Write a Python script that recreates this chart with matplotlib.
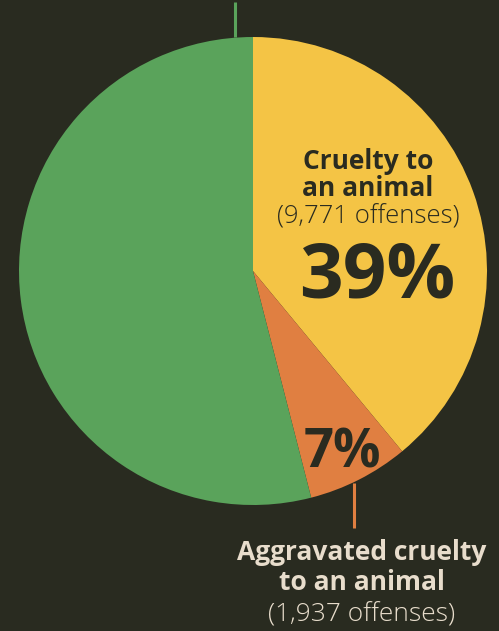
import matplotlib.pyplot as plt

# offense categories (green slice label is cut off at the top of the image)
categories = ['Cruelty to an animal', 'Aggravated cruelty to an animal', 'Other']
shares = [39, 7, 54]
offenses = ['9,771', '1,937', '']
colors = ['#f4c445', '#e07f41', '#5aa35b']

bg = '#292b20'
dark = '#2a2b20'
beige = '#e8ddcc'
font = ['Open Sans', 'DejaVu Sans']

W, H = 499, 631
fig = plt.figure(figsize=(W / 100, H / 100), dpi=100, facecolor=bg)
ax = fig.add_axes([0, 0, 1, 1])
ax.set_facecolor(bg)

cx, cy, r = 253, H - 271, 234
ax.pie(shares, colors=colors, startangle=90, counterclock=False,
       center=(cx, cy), radius=r, wedgeprops=dict(linewidth=0))
ax.set_xlim(0, W)
ax.set_ylim(0, H)
ax.set_aspect('equal')
ax.axis('off')

# leader lines
ax.plot([235, 235], [H - 2, H - 37], color=colors[2], lw=2.2, solid_capstyle='butt')
ax.plot([354, 354], [H - 483, H - 528], color=colors[1], lw=2.2, solid_capstyle='butt')

# labels inside yellow slice
ax.text(368, H - 169, 'Cruelty to', ha='center', va='baseline', fontsize=19,
        fontweight='bold', color=dark, family=font)
ax.text(368, H - 196, 'an animal', ha='center', va='baseline', fontsize=19,
        fontweight='bold', color=dark, family=font)
ax.text(368, H - 223, '(' + offenses[0] + ' offenses)', ha='center', va='baseline',
        fontsize=18.5, fontweight='light', color=dark, family=font)
ax.text(377, H - 298, f'{shares[0]}%', ha='center', va='baseline', fontsize=55,
        fontweight='bold', color=dark, family=font)

# orange slice
ax.text(342, H - 467, f'{shares[1]}%', ha='center', va='baseline', fontsize=38,
        fontweight='bold', color=dark, family=font)
ax.text(362, H - 560, 'Aggravated cruelty', ha='center', va='baseline', fontsize=19,
        fontweight='bold', color=beige, family=font)
ax.text(362, H - 590, 'to an animal', ha='center', va='baseline', fontsize=19,
        fontweight='bold', color=beige, family=font)
ax.text(362, H - 621, '(' + offenses[1] + ' offenses)', ha='center', va='baseline',
        fontsize=19, fontweight='light', color=beige, family=font)

fig.savefig('out.png', dpi=100, facecolor=bg)
